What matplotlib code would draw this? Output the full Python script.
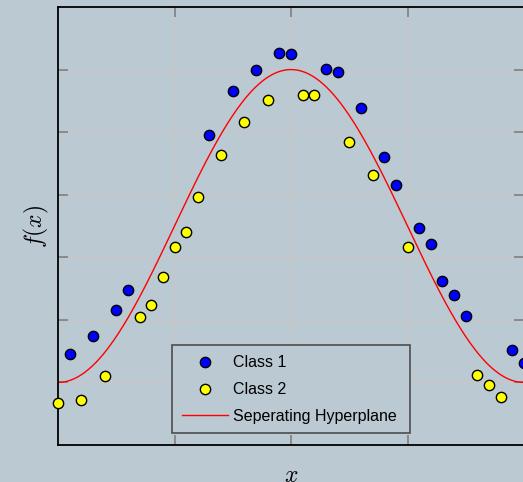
import numpy as np
import matplotlib
matplotlib.use("Agg")
import matplotlib.pyplot as plt

plt.rcParams["mathtext.fontset"] = "cm"
plt.rcParams["font.family"] = ["Liberation Sans", "DejaVu Sans"]

BG = "#bbc9d3"

# Sample grid: 41 points spaced pi/20 over [-pi, pi]
n_points = 41
class1_idx = [1, 3, 5, 6, 13, 15, 17, 19, 20, 23, 24, 26, 28, 29, 31, 32, 33, 34, 35, 39, 40]
class1_y = [-0.818, -0.703, -0.539, -0.411, 0.580, 0.861, 0.997, 1.108, 1.100, 1.006,
            0.987, 0.754, 0.439, 0.260, -0.015, -0.117, -0.354, -0.439, -0.577, -0.793, -0.876]
class2_idx = [0, 2, 4, 7, 8, 9, 10, 11, 12, 14, 16, 18, 21, 22, 25, 27, 30, 36, 37, 38]
class2_y = [-1.130, -1.113, -0.957, -0.582, -0.505, -0.328, -0.134, -0.038, 0.184, 0.456,
            0.665, 0.808, 0.838, 0.838, 0.536, 0.326, -0.136, -0.955, -1.019, -1.093]

x_grid = np.linspace(-np.pi, np.pi, n_points)
x1 = x_grid[class1_idx]
x2 = x_grid[class2_idx]

x_line = np.linspace(-np.pi, np.pi, 400)
y_line = np.cos(x_line)

fig = plt.figure(figsize=(5.23, 4.82), dpi=100, facecolor=BG)
ax = fig.add_axes([58 / 523, 37 / 482, 466 / 523, 438 / 482], facecolor=BG)

ax.grid(True, color="#c6c6c6", linewidth=1.0, zorder=0)
ax.set_axisbelow(True)

ax.scatter(x1, class1_y, s=55, c="blue", edgecolors="black", linewidths=1.0,
           label="Class 1", zorder=3, clip_on=False)
ax.scatter(x2, class2_y, s=55, c="yellow", edgecolors="black", linewidths=1.0,
           label="Class 2", zorder=3, clip_on=False)
ax.plot(x_line, y_line, color="red", linewidth=1.0, label="Seperating Hyperplane", zorder=2)

ax.set_xlim(-np.pi, np.pi)
ax.set_ylim(-1.4, 1.4)
ax.set_xticks([-np.pi / 2, 0, np.pi / 2])
ax.set_yticks([-1.0, -0.6, -0.2, 0.2, 0.6, 1.0])
ax.tick_params(direction="in", length=7.5, width=1.2, color="#7f7f7f",
               top=True, right=True, labelbottom=False, labelleft=False)
for sp in ax.spines.values():
    sp.set_color("black")
    sp.set_linewidth(1.3)

ax.set_xlabel("$x$", fontsize=17)
ax.xaxis.set_label_coords(0.5, -0.045)
ax.set_ylabel("$f(x)$", fontsize=17)
ax.yaxis.set_label_coords(-0.016, 0.5)

leg = ax.legend(loc="lower left", bbox_to_anchor=(0.2446, 0.027, 0.5107, 0.2),
                mode="expand", borderaxespad=0,
                fontsize=11.5, fancybox=False, framealpha=1, facecolor=BG,
                edgecolor="#4d4d4d", handlelength=2.9, handletextpad=0.35,
                labelspacing=0.75, borderpad=0.6)
leg.get_frame().set_linewidth(1.2)

fig.savefig("out.png", dpi=100, facecolor=BG)
